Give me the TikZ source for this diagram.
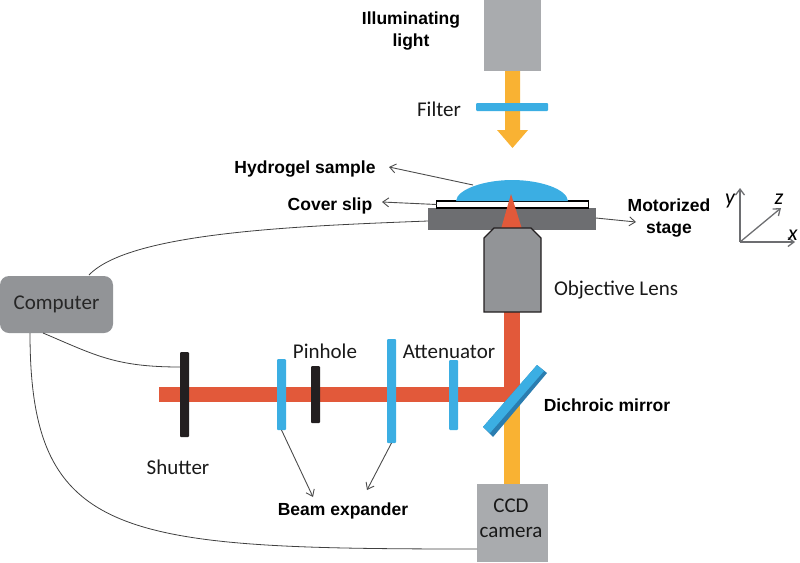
\documentclass[tikz,border=0pt]{standalone}
\usepackage{fontspec}
\setmainfont{Carlito}
\newfontfamily\labelfont{Liberation Sans}
\usetikzlibrary{arrows.meta}
\definecolor{beamred}{HTML}{E2593A}
\definecolor{beamyellow}{HTML}{F9B233}
\definecolor{opticblue}{HTML}{3BAEE3}
\definecolor{opticdark}{HTML}{2A7DB0}
\definecolor{boxgray}{HTML}{A9ABAE}
\definecolor{stagegray}{HTML}{6D6E71}
\definecolor{lensgray}{HTML}{929497}
\definecolor{inkblack}{HTML}{231F20}
\tikzset{
	block/.style = {rectangle, inner sep = 0, outer sep = 0, minimum width = #1},
	bluebar/.style = {block = 9pt, fill = opticblue, rounded corners = 1pt},
	blackbar/.style = {block = 9pt, fill = inkblack, rounded corners = 1pt},
	graybox/.style = {block = #1, fill = boxgray},
	boldlabel/.style = {inner sep = 0, align = center, font = \fontsize{17.5}{22}\selectfont\labelfont\bfseries},
	textlabel/.style = {inner sep = 0, align = center, text = black!90, font = \fontsize{21}{25}\selectfont},
	pointer/.style = {draw = black!70, line width = 0.9pt, -{Straight Barb[length = 6pt, width = 9pt]}},
	wire/.style = {draw = black!75, line width = 0.8pt},
	axis/.style = {draw = stagegray, line width = 1.3pt, -{Straight Barb[length = 6pt, width = 9pt]}},
	axislabel/.style = {inner sep = 0, font = \fontsize{22}{22}\selectfont\itshape}
}
\begin{document}
\begin{tikzpicture}[x = 1pt, y = -1pt]
	\useasboundingbox (0,0) rectangle (800,562);
	% light path through the microscope
	\fill[beamyellow] (505,71) -- (520,71) -- (520,130) -- (528,130) -- (512.5,148) -- (497,130) -- (505,130) -- cycle;
	\fill[beamyellow] (504,400) rectangle (520,484);
	\fill[beamred] (504,310) rectangle (520,402);
	\fill[beamred] (159,387) rectangle (520,402);
	% illumination side
	\node[graybox = 57pt, minimum height = 71pt] (lamp) at (512.5,35.5) {};
	\node[bluebar, minimum width = 72pt, minimum height = 8pt] (filter) at (512,107) {};
	% sample on the stage
	\node[block = 168pt, minimum height = 22pt, fill = stagegray] (stage) at (512,219) {};
	\node[block = 152pt, minimum height = 7pt, draw = black, line width = 1.1pt, fill = white] (slip) at (512.5,204.5) {};
	\fill[opticblue] (456,201) .. controls (457,189) and (485,180) .. (512,180) .. controls (540,180) and (567,189) .. (568,201) -- cycle;
	\coordinate (gel) at (473,185);
	\fill[beamred] (511,194) -- (522,229) -- (501,229) -- cycle;
	\filldraw[fill = lensgray, draw = inkblack, line width = 1.3pt] (494,228) -- (531,228) -- (541,238) -- (541,312) -- (484,312) -- (484,238) -- cycle;
	% optics along the beam
	\node[blackbar, minimum height = 85pt] (shutter) at (184.5,394.5) {};
	\node[bluebar, minimum height = 71pt] (lens1) at (281.5,394.5) {};
	\node[blackbar, minimum height = 57pt] (pinhole) at (315.5,394.5) {};
	\node[bluebar, minimum height = 104pt] (lens2) at (391.5,391) {};
	\node[bluebar, minimum height = 70pt] (atten) at (453.5,395) {};
	\fill[opticdark] (483,427) -- (537,365) -- (547,373) -- (493,437) -- cycle;
	\fill[opticblue] (483,427) -- (537,365) -- (544,371) -- (490,433) -- cycle;
	% boxes
	\node[graybox = 71pt, minimum height = 78pt] (ccd) at (512.5,522.5) {};
	\node[textlabel] (ccdlabel) at (511,518) {CCD\\camera};
	\node[rectangle, rounded corners = 9pt, inner sep = 0, minimum width = 113pt, minimum height = 57pt, fill = lensgray, text = black!85, font = \fontsize{21}{25}\selectfont] (computer) at (56.5,304.5) {Computer};
	% cables
	\coordinate (computerout1) at (89,275);
	\coordinate (computerout2) at (43,333);
	\coordinate (computerout3) at (30,333);
	\coordinate (shutterin) at (180,367);
	\coordinate (ccdin) at (477,549);
	\coordinate (stagein) at (428,221);
	\draw[wire] (stagein) .. controls (300,226) and (130,232) .. (computerout1);
	\draw[wire] (computerout2) .. controls (95,355) and (115,367) .. (shutterin);
	\draw[wire] (computerout3) .. controls (30,540) and (120,549) .. (ccdin);
	% labels
	\node[boldlabel] (lightlabel) at (411,31) {Illuminating\\light};
	\node[textlabel] (filterlabel) at (439,109) {Filter};
	\node[boldlabel] (gellabel) at (305,169) {Hydrogel sample};
	\node[boldlabel] (sliplabel) at (330,206) {Cover slip};
	\node[boldlabel] (stagelabel) at (669,218) {Motorized\\stage};
	\node[textlabel] (lenslabel) at (616,290) {Objective Lens};
	\node[textlabel] (pinholelabel) at (325,351) {Pinhole};
	\node[textlabel] (attenlabel) at (449,352) {Attenuator};
	\node[boldlabel] (mirrorlabel) at (607,405) {Dichroic mirror};
	\node[textlabel] (shutterlabel) at (178,467) {Shutter};
	\node[boldlabel] (expanderlabel) at (343,511) {Beam expander};
	% pointers
	\coordinate (gelend) at (389,167);
	\coordinate (slipend) at (382,202);
	\coordinate (stagestart) at (596,218);
	\coordinate (stageend) at (636,222);
	\coordinate (lens1end) at (313,497);
	\coordinate (lens2end) at (367,490);
	\draw[pointer] (gel) -- (gelend);
	\draw[pointer] (slip.west) -- (slipend);
	\draw[pointer] (stagestart) -- (stageend);
	\draw[pointer] (lens1.south) -- (lens1end);
	\draw[pointer] (lens2.south) -- (lens2end);
	% axes
	\coordinate (origin) at (740,242);
	\coordinate (yend) at (740,188);
	\coordinate (xend) at (795,242);
	\coordinate (zend) at (781,208);
	\draw[axis] (origin) -- (yend);
	\draw[axis] (origin) -- (xend);
	\draw[axis] (origin) -- (zend);
	\node[axislabel] (ylabel) at (730,201) {y};
	\node[axislabel] (zlabel) at (779,199) {z};
	\node[axislabel] (xlabel) at (793,235) {x};
\end{tikzpicture}
\end{document}
